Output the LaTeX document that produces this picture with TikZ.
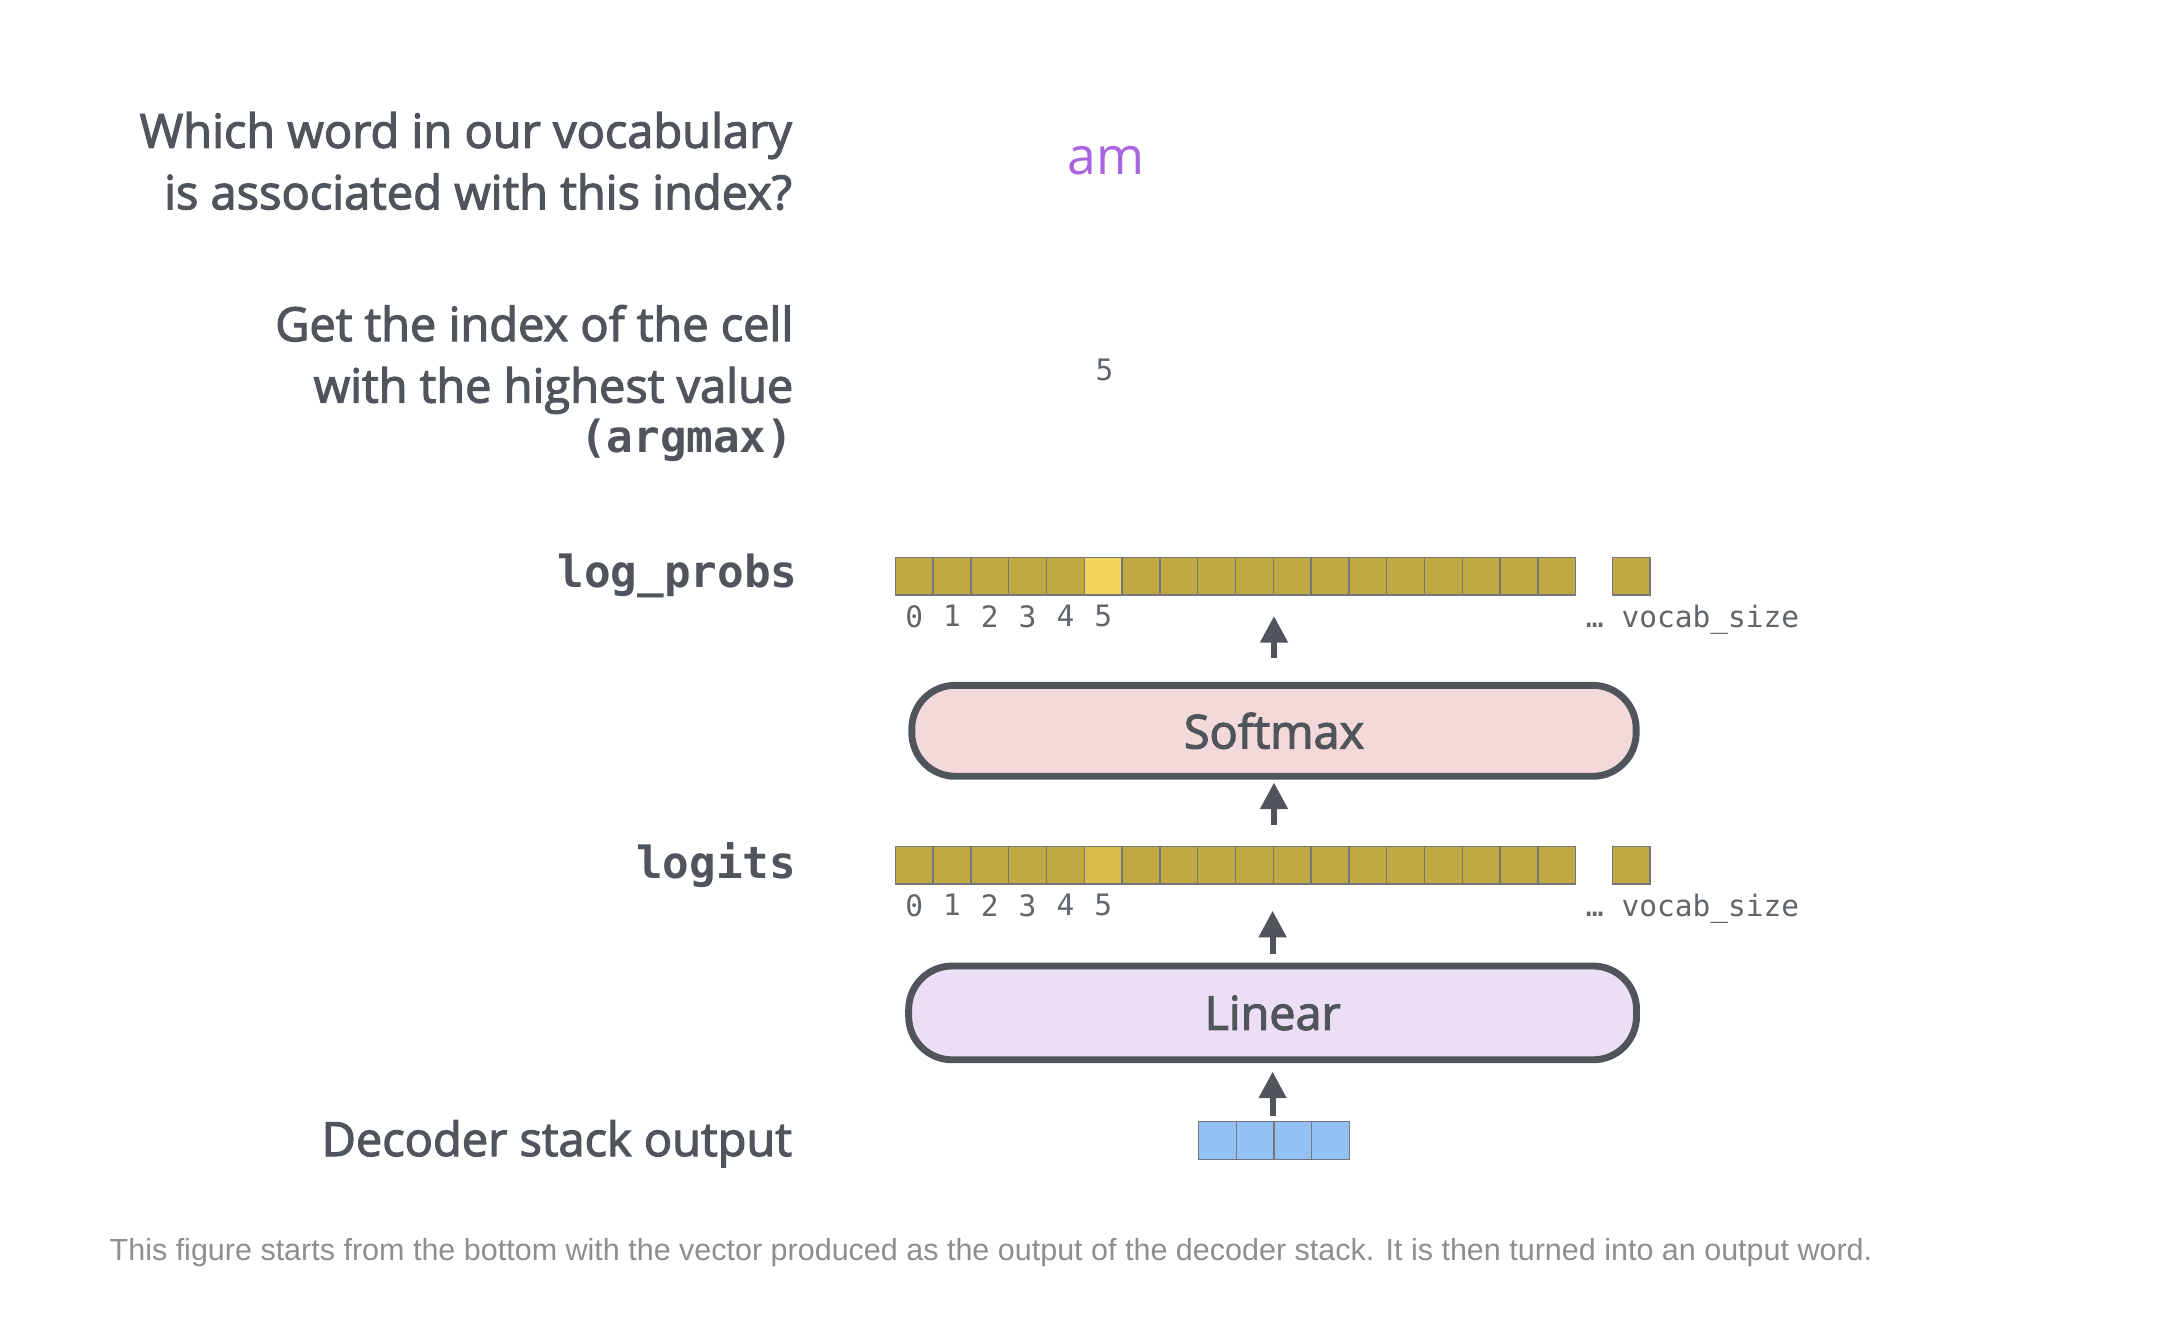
\documentclass[tikz,border=0pt]{standalone}
\usepackage{fontspec}
\setmainfont{Open Sans}
\setmonofont{DejaVu Sans Mono}
\newfontfamily\semib{Open Sans}[FakeBold = 2.5]
\newfontfamily\capfont{Liberation Sans}
\usetikzlibrary{arrows.meta, positioning}

\definecolor{ink}{HTML}{50555B}
\definecolor{gold}{HTML}{C1A843}
\definecolor{goldhi}{HTML}{F1D45B}
\definecolor{goldmid}{HTML}{D8BD4B}
\definecolor{pinkfill}{HTML}{F4D9DA}
\definecolor{lilac}{HTML}{ECDFF5}
\definecolor{vecblue}{HTML}{93C1F3}
\definecolor{wordpurple}{HTML}{A865E0}
\definecolor{capgray}{HTML}{8E8E8E}

\tikzset{
	sidelabel/.style = {anchor = east, align = right, inner sep = 0, text = ink, font = \fontsize{19.1}{25}\selectfont\semib},
	codelabel/.style = {anchor = east, inner sep = 0, text = ink, font = \fontsize{18}{20}\selectfont\ttfamily\bfseries},
	cell/.style = {draw = ink!80, line width = 0.5pt, fill = gold, minimum size = 0.54cm, inner sep = 0, outer sep = 0},
	idx/.style = {inner sep = 0, text = ink!90, font = \fontsize{12}{14}\selectfont\ttfamily},
	layer/.style = {draw = ink, line width = 2.8pt, rounded corners = 0.62cm, text = ink, font = \fontsize{19}{22}\selectfont\semib}
}

\begin{document}
\begin{tikzpicture}[x = 0.02cm, y = -0.02cm, > = {Triangle[length = 0.38cm, width = 0.38cm]}]

	\useasboundingbox (0, 0) rectangle (1560, 947);

	% Questions on the left, answers in the middle

	\node [sidelabel] (askword) at (566, 115) {Which word in our vocabulary\\is associated with this index?};
	\node [sidelabel] (askindex) at (567, 274) {Get the index of the cell\\with the highest value\\[-4.5pt]{\fontsize{18}{20}\selectfont\ttfamily\bfseries(argmax)}};
	\node [text = wordpurple, font = \fontsize{21}{24}\selectfont] (word) at (790, 115) {am};
	\node [idx] (index) at (789, 264) {5};

	% log_probs vector

	\node [codelabel] (lplabel) at (570, 411) {log\_probs};
	\foreach \i in {0,...,17}
		\node [cell] (lp\i) at ({653 + 27*\i}, 411.5) {};
	\node [cell, fill = goldhi] (lpmax) at (lp5) {};
	\node [cell] (lpx) at (1165, 411.5) {};
	\foreach \i in {0,...,5}
		\node [idx, below = 0.14cm of lp\i] (lpn\i) {\i};
	\node [idx, anchor = base west, xshift = 0.14cm] (lpvs) at (lp17.east |- lpn0.base) {… vocab\_size};

	% Softmax

	\node [layer, fill = pinkfill, minimum width = 10.35cm, minimum height = 1.3cm] (softmax) at (910, 522) {Softmax};

	% logits vector

	\node [codelabel] (lglabel) at (569, 618) {logits};
	\foreach \i in {0,...,17}
		\node [cell] (lg\i) at ({653 + 27*\i}, 618) {};
	\node [cell, fill = goldmid] (lgmax) at (lg5) {};
	\node [cell] (lgx) at (1165, 618) {};
	\foreach \i in {0,...,5}
		\node [idx, below = 0.14cm of lg\i] (lgn\i) {\i};
	\node [idx, anchor = base west, xshift = 0.14cm] (lgvs) at (lg17.east |- lgn0.base) {… vocab\_size};

	% Linear

	\node [layer, fill = lilac, minimum width = 10.4cm, minimum height = 1.34cm] (linear) at (909, 723.5) {Linear};

	% Decoder stack output

	\node [sidelabel] (declabel) at (566, 817) {Decoder stack output};
	\foreach \i in {0,...,3}
		\node [cell, fill = vecblue] (dec\i) at ({869.5 + 27*\i}, 814.5) {};

	% Arrows

	\draw [->, ink, line width = 2.4pt, shorten < = 0.34cm, shorten > = 0.3cm] (softmax.north) -- (softmax.north |- lp0.south);
	\draw [->, ink, line width = 2.4pt, shorten < = 0.3cm, shorten > = 0.04cm] (softmax.south |- lg0.north) -- (softmax.south);
	\draw [->, ink, line width = 2.4pt, shorten < = 0.12cm, shorten > = 0.38cm] (linear.north) -- (linear.north |- lg0.south);
	\draw [->, ink, line width = 2.4pt, shorten < = 0.08cm, shorten > = 0.12cm] (linear.south |- dec0.north) -- (linear.south);

	% Caption

	\node [anchor = west, inner sep = 0, text = capgray, font = \fontsize{12.4}{15}\selectfont\capfont] (caption) at (78, 895) {This figure starts from the bottom with the vector produced as the output of the decoder stack. It is then turned into an output word.};

\end{tikzpicture}
\end{document}
